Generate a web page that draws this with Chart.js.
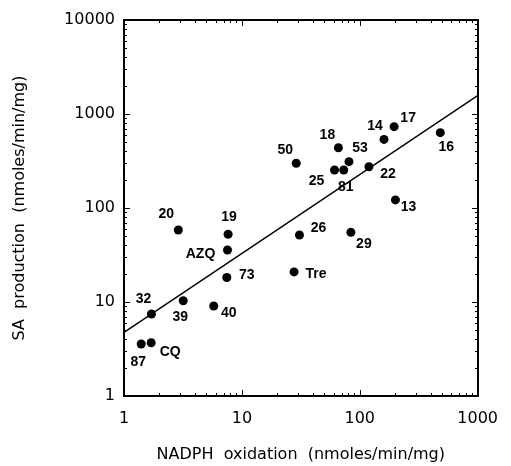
<!DOCTYPE html>
<html>
<head>
<meta charset="utf-8">
<script src="https://cdn.jsdelivr.net/npm/chart.js@4.4.1/dist/chart.umd.min.js"></script>
<style>
  html, body { margin: 0; padding: 0; background: #fff; }
  canvas { display: block; }
</style>
</head>
<body>
<canvas id="chart" width="511" height="466"></canvas>
<script>
// compound names and measured rates
const compounds = ['87', 'CQ', '32', '39', '20', '19', 'AZQ', '73', '40', 'Tre', '26', '29',
  '50', '18', '25', '81', '53', '22', '14', '17', '13', '16'];
const nadphOxidation = [1.40, 1.70, 1.71, 3.18, 2.89, 7.64, 7.55, 7.45, 5.77, 27.7, 30.8, 84.1,
  28.9, 65.9, 61.1, 73.1, 81, 119.6, 160.6, 195.7, 200.7, 482];
const saProduction = [3.57, 3.69, 7.45, 10.3, 58.3, 52.5, 35.7, 18.2, 9.06, 20.9, 51.6, 55.1,
  299, 438, 254, 254, 311, 275, 537, 733, 122, 633];

// regression line end points
const fitX = [1, 1000];
const fitY = [4.76, 1566];

const xTickValues = [1, 10, 100, 1000];
const xTickLabels = ['1', '10', '100', '1000'];
const yTickValues = [1, 10, 100, 1000, 10000];
const yTickLabels = ['1', '10', '100', '1000', '10000'];
const minorSteps = [2, 3, 4, 5, 6, 7, 8, 9];

// where each name sits relative to its dot (px)
const labelOffsets = {
  '87': [-3, 18], 'CQ': [19, 9], '32': [-8, -15], '39': [-3, 16], '20': [-12, -16],
  '19': [1, -17], 'AZQ': [-27, 4], '73': [20, -2], '40': [15, 7], 'Tre': [22, 2],
  '26': [19, -7], '29': [13, 12], '50': [-11, -13], '18': [-11, -13], '25': [-18, 11],
  '81': [2, 17], '53': [11, -14], '22': [19, 7], '14': [-9, -13], '17': [14, -9],
  '13': [13, 7], '16': [6, 14]
};

const FONT = '"Liberation Sans", Arial, sans-serif';
const WIDE_FONT = '"DejaVu Sans", sans-serif';

// frame, inward log ticks on all four sides, and the point names
const decorations = {
  id: 'decorations',
  afterDraw(chart) {
    const ctx = chart.ctx;
    const a = chart.chartArea;
    const xs = chart.scales.x;
    const ys = chart.scales.y;
    const L = Math.round(a.left), R = Math.round(a.right);
    const T = Math.round(a.top), B = Math.round(a.bottom);
    ctx.save();
    ctx.fillStyle = '#000';
    ctx.fillRect(L - 1, T - 1, R - L + 2, 2);
    ctx.fillRect(L - 1, B - 1, R - L + 2, 2);
    ctx.fillRect(L - 1, T - 1, 2, B - T + 2);
    ctx.fillRect(R - 1, T - 1, 2, B - T + 2);

    xTickValues.forEach((d, k) => {
      const px = Math.round(xs.getPixelForValue(d));
      ctx.fillRect(px, B - 6, 1, 6);
      ctx.fillRect(px, T, 1, 6);
      if (k === xTickValues.length - 1) return;
      minorSteps.forEach(m => {
        const mx = Math.round(xs.getPixelForValue(d * m));
        ctx.fillRect(mx, B - 3, 1, 3);
        ctx.fillRect(mx, T, 1, 3);
      });
    });
    yTickValues.forEach((d, k) => {
      const py = Math.round(ys.getPixelForValue(d));
      ctx.fillRect(L, py, 6, 1);
      ctx.fillRect(R - 6, py, 6, 1);
      if (k === yTickValues.length - 1) return;
      minorSteps.forEach(m => {
        const my = Math.round(ys.getPixelForValue(d * m));
        ctx.fillRect(L, my, 3, 1);
        ctx.fillRect(R - 3, my, 3, 1);
      });
    });

    ctx.font = 'bold 14px ' + FONT;
    ctx.textAlign = 'center';
    ctx.textBaseline = 'middle';
    compounds.forEach((name, i) => {
      const off = labelOffsets[name] || [0, 0];
      const px = xs.getPixelForValue(nadphOxidation[i]);
      const py = ys.getPixelForValue(saProduction[i]);
      ctx.fillText(name, px + off[0], py + off[1]);
    });
    ctx.restore();
  }
};

new Chart(document.getElementById('chart'), {
  type: 'scatter',
  data: {
    datasets: [{
      data: compounds.map((c, i) => ({ x: nadphOxidation[i], y: saProduction[i] })),
      backgroundColor: '#000',
      borderColor: '#000',
      borderWidth: 0,
      pointRadius: 4.5
    }, {
      type: 'line',
      data: fitX.map((v, i) => ({ x: v, y: fitY[i] })),
      borderColor: '#000',
      borderWidth: 1.5,
      pointRadius: 0,
      fill: false
    }]
  },
  options: {
    responsive: false,
    animation: false,
    devicePixelRatio: 1,
    layout: { padding: { left: 0, top: 20, right: 23, bottom: 0 } },
    plugins: { legend: { display: false }, tooltip: { enabled: false } },
    scales: {
      x: {
        type: 'logarithmic',
        min: 1,
        max: 1000,
        afterBuildTicks: s => { s.ticks = xTickValues.map(v => ({ value: v })); },
        afterFit: s => { s.height = 70; },
        grid: { display: false, drawTicks: false },
        border: { display: false },
        ticks: {
          callback: (v, i) => xTickLabels[i],
          font: { family: WIDE_FONT, size: 16 },
          color: '#000',
          padding: 13,
          maxRotation: 0,
          autoSkip: false
        },
        title: {
          display: true,
          text: 'NADPH  oxidation  (nmoles/min/mg)',
          font: { family: WIDE_FONT, size: 16 },
          color: '#000',
          padding: { top: 0, bottom: 2 }
        }
      },
      y: {
        type: 'logarithmic',
        min: 1,
        max: 10000,
        afterBuildTicks: s => { s.ticks = yTickValues.map(v => ({ value: v })); },
        afterFit: s => { s.width = 124; },
        grid: { display: false, drawTicks: false },
        border: { display: false },
        ticks: {
          callback: (v, i) => yTickLabels[i],
          font: { family: WIDE_FONT, size: 16 },
          color: '#000',
          padding: 9,
          autoSkip: false
        },
        title: {
          display: true,
          text: 'SA  production  (nmoles/min/mg)',
          font: { family: WIDE_FONT, size: 16 },
          color: '#000',
          padding: { top: 10, bottom: 0 }
        }
      }
    }
  },
  plugins: [decorations]
});
</script>
</body>
</html>
